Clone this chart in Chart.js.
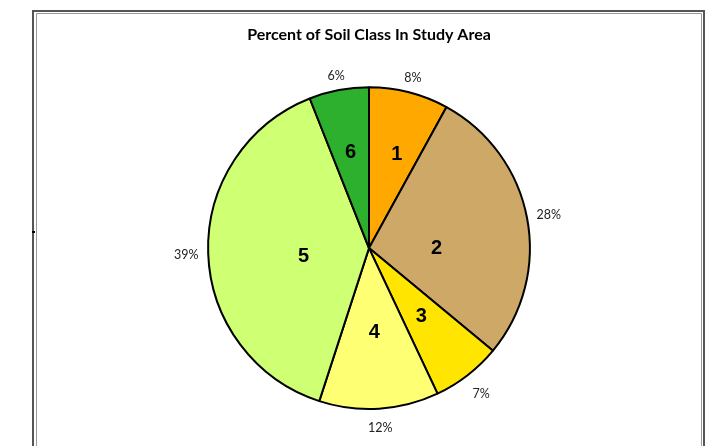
<!DOCTYPE html>
<html>
<head>
<meta charset="utf-8">
<script src="https://cdn.jsdelivr.net/npm/chart.js@4/dist/chart.umd.min.js"></script>
<style>
  html, body { margin: 0; padding: 0; background: #fff; }
  #wrap { width: 720px; height: 446px; position: relative; }
</style>
</head>
<body>
<div id="wrap"><canvas id="soilPie"></canvas></div>
<script>
const categories = ['1', '2', '3', '4', '5', '6'];
const percents = [8, 28, 7, 12, 39, 6];
const sliceColors = ['#FFA800', '#CDA866', '#FFE500', '#FFFF73', '#CFFF73', '#2DB02D'];

// frame around the chart like the spreadsheet export
const framePlugin = {
    id: 'frame',
    beforeDraw(chart) {
        const c = chart.ctx;
        c.save();
        c.fillStyle = '#fff';
        c.fillRect(0, 0, chart.width, chart.height);
        c.strokeStyle = '#555';
        c.lineWidth = 2;
        c.beginPath();
        c.moveTo(33, 460); c.lineTo(33, 11); c.lineTo(704, 11); c.lineTo(704, 460);
        c.stroke();
        c.strokeStyle = '#999';
        c.lineWidth = 1;
        c.beginPath();
        c.moveTo(36.5, 460); c.lineTo(36.5, 13.5); c.lineTo(701.5, 13.5); c.lineTo(701.5, 460);
        c.stroke();
        c.fillStyle = '#000';
        c.fillRect(32, 231, 3, 2);
        c.restore();
    }
};

// slice numbers inside, percentages outside
const sliceLabels = {
    id: 'sliceLabels',
    afterDatasetsDraw(chart, args, opts) {
        const c = chart.ctx;
        const meta = chart.getDatasetMeta(0);
        c.save();
        c.textAlign = 'center';
        c.textBaseline = 'middle';
        meta.data.forEach((arc, i) => {
            const p = arc.getProps(['x', 'y', 'startAngle', 'endAngle', 'outerRadius'], true);
            const mid = (p.startAngle + p.endAngle) / 2;
            const a = mid + opts.shift[i] * Math.PI / 180;
            const ri = p.outerRadius * opts.inner[i];
            c.font = 'bold 20px "Liberation Sans", Arial, sans-serif';
            c.fillStyle = '#000';
            c.fillText(categories[i], p.x + Math.cos(a) * ri, p.y + Math.sin(a) * ri + 1);
            const ro = p.outerRadius + opts.outer[i];
            c.font = '12.5px Lato, "Open Sans", sans-serif';
            c.fillStyle = '#222';
            c.fillText(percents[i] + '%', p.x + Math.cos(mid) * ro, p.y + Math.sin(mid) * ro + 1);
        });
        c.restore();
    }
};

const ctx = document.getElementById('soilPie').getContext('2d');

window.soilPie = new Chart(ctx, {
    type: 'pie',
    data: {
        labels: categories,
        datasets: [{
            data: percents,
            backgroundColor: sliceColors,
            borderColor: '#000',
            borderWidth: 2
        }]
    },
    options: {
        responsive: true,
        maintainAspectRatio: false,
        animation: false,
        layout: { padding: { left: 207, right: 189, top: 17, bottom: 36 } },
        plugins: {
            legend: { display: false },
            tooltip: { enabled: false },
            title: {
                display: true,
                text: 'Percent of Soil Class In Study Area',
                color: '#000',
                font: { family: 'Lato', size: 16, weight: 'bold' },
                padding: { top: 8, bottom: 42 }
            },
            sliceLabels: {
                inner: [0.61, 0.42, 0.53, 0.52, 0.41, 0.61],
                shift: [2, 10, 0, 0, -5, 0],
                outer: [16, 22, 22, 18, 22, 15]
            }
        }
    },
    plugins: [framePlugin, sliceLabels]
});
</script>
</body>
</html>
